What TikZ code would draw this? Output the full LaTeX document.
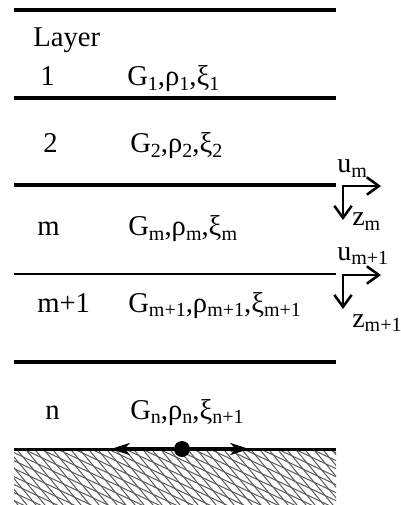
\documentclass[tikz,border=0pt]{standalone}
\usepackage{fontspec}
\setmainfont{Liberation Serif}
\usetikzlibrary{arrows.meta}
\newcommand{\sbs}[1]{\raisebox{-0.35ex}{\fontsize{15}{15}\selectfont #1}}
\begin{document}
\begin{tikzpicture}[x=0.75pt,y=-0.75pt,
  txt/.style={anchor=base west,inner sep=0pt,font=\fontsize{21.5}{25}\selectfont},
  sublbl/.style={anchor=base west,inner sep=0pt,font=\fontsize{21}{25}\selectfont},
  layerline/.style={line width=2.4pt},
  axisarrow/.style={line width=1.9pt,-{Straight Barb[length=9pt,width=13pt,line width=1.9pt]}},
  hatchline/.style={line width=0.75pt,black!65},
  gndarrow/.style={line width=3pt,-{Stealth[length=14pt,width=9pt,inset=4pt]}}]
\useasboundingbox (0,0) rectangle (400,505);
% layer interfaces
\draw[layerline,line width=2.7pt] (14,10) -- (336,10);
\draw[layerline] (14,98) -- (336,98);
\draw[layerline,line width=2.6pt] (14,185) -- (336,185);
\draw[layerline,line width=1.8pt] (14,274) -- (336,274);
\draw[layerline] (14,362) -- (336,362);
% ground hatch
\begin{scope}
\clip (14,451) rectangle (336,505);
\foreach \k in {-10,...,45} {
  \draw[hatchline] (\k*9,451) -- ++(50,60);
}
\foreach \k in {-30,...,14} {
  \draw[hatchline] (0,446+\k*8) -- ++(360,170);
}
\end{scope}
\draw[line width=1.6pt] (14,449.5) -- (336,449.5);
% texts
\node[txt] (layer) at (33,47) {Layer};
\node[txt] (l1) at (40,86) {1};
\node[txt] (p1) at (127,86) {G\sbs{1},ρ\sbs{1},ξ\sbs{1}};
\node[txt] (l2) at (43,153) {2};
\node[txt] (p2) at (130,153) {G\sbs{2},ρ\sbs{2},ξ\sbs{2}};
\node[txt] (lm) at (37,236) {m};
\node[txt] (pm) at (128,236) {G\sbs{m},ρ\sbs{m},ξ\sbs{m}};
\node[txt] (lm1) at (37,312) {m+1};
\node[txt] (pm1) at (128,312) {G\sbs{m+1},ρ\sbs{m+1},ξ\sbs{m+1}};
\node[txt] (ln) at (45,419) {n};
\node[txt] (pn) at (130,419) {G\sbs{n},ρ\sbs{n},ξ\sbs{n+1}};
% local axes
\coordinate (o1) at (343,186);
\coordinate (u1) at (381,186);
\coordinate (z1) at (343,220);
\draw[axisarrow] (o1) -- (u1);
\draw[axisarrow] ([yshift=0.95pt]o1) -- (z1);
\node[sublbl] (ulbl1) at (337,173) {u\sbs{m}};
\node[sublbl] (zlbl1) at (352,226) {z\sbs{m}};
\coordinate (o2) at (343,275);
\coordinate (u2) at (381,275);
\coordinate (z2) at (343,309);
\draw[axisarrow] (o2) -- (u2);
\draw[axisarrow] ([yshift=0.95pt]o2) -- (z2);
\node[sublbl] (ulbl2) at (337,260) {u\sbs{m+1}};
\node[sublbl] (zlbl2) at (352,327) {z\sbs{m+1}};
% ground excitation
\node[circle,fill=black,inner sep=0pt,minimum size=12pt] (dot) at (182,449) {};
\coordinate (gl) at (111,449);
\coordinate (gr) at (249,449);
\draw[gndarrow] (dot) -- (gl);
\draw[gndarrow] (dot) -- (gr);
\end{tikzpicture}
\end{document}
